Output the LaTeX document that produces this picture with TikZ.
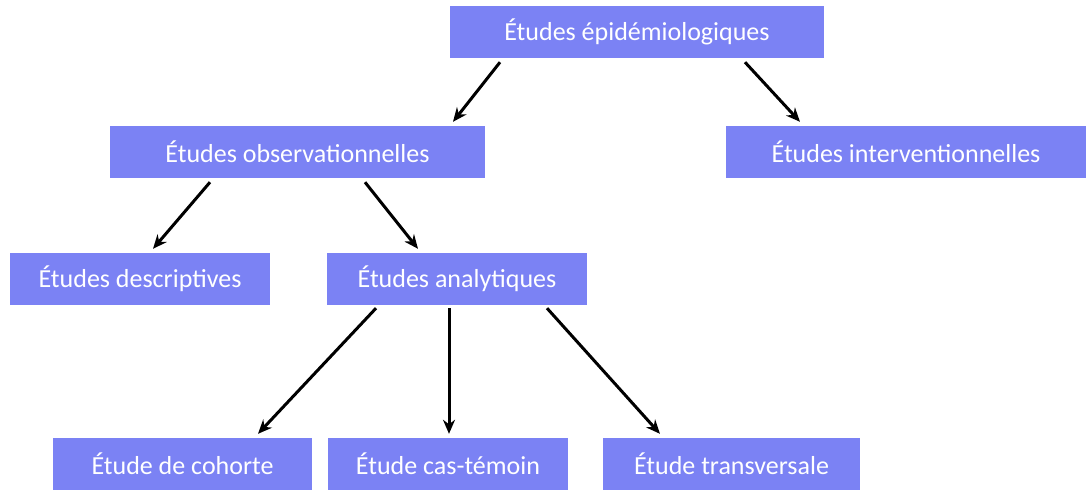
\documentclass[tikz,border=0pt]{standalone}
\usepackage{fontspec}
\setmainfont{Carlito}
\usetikzlibrary{arrows.meta, positioning}
\definecolor{boxblue}{HTML}{7B82F4}

\begin{document}
\begin{tikzpicture}[x=1pt, y=-1pt,
    study/.style={draw=none, fill=boxblue, text=white, minimum height=52pt, font=\fontsize{26}{30}\selectfont, inner sep=0pt},
    arr/.style={-{Stealth[length=14pt,width=12pt]}, line width=3pt}]
    \useasboundingbox (0,0) rectangle (1089,490);

    % Top level
    \node[study, minimum width=374pt] (epi) at (637,32) {Études épidémiologiques};

    % Second level
    \node[study, minimum width=375pt] (obs) at (297.5,152) {Études observationnelles};
    \node[study, minimum width=360pt] (interv) at (906,152) {Études interventionnelles};
    \draw[arr] ([xshift=-137pt,yshift=-4pt]epi.south) -- ([xshift=155.5pt,yshift=4pt]obs.north);
    \draw[arr] ([xshift=108pt,yshift=-4pt]epi.south) -- ([xshift=-106pt,yshift=4pt]interv.north);

    % Third level
    \node[study, minimum width=260pt] (desc) at (140,279) {Études descriptives};
    \node[study, minimum width=260pt] (anal) at (457,279) {Études analytiques};
    \draw[arr] ([xshift=-87.5pt,yshift=-4pt]obs.south) -- ([xshift=13pt,yshift=4pt]desc.north);
    \draw[arr] ([xshift=67.5pt,yshift=-4pt]obs.south) -- ([xshift=-39pt,yshift=4pt]anal.north);

    % Analytical designs
    \node[study, minimum width=259pt] (coh) at (182.5,464) {Étude de cohorte};
    \node[study, minimum width=240pt] (cas) at (448,464) {Étude cas-témoin};
    \node[study, minimum width=257pt] (trans) at (731.5,464) {Étude transversale};
    \draw[arr] ([xshift=-81pt,yshift=-3pt]anal.south) -- ([xshift=75.5pt,yshift=4pt]coh.north);
    \draw[arr] ([xshift=-8pt,yshift=-3pt]anal.south) -- ([xshift=1pt,yshift=4pt]cas.north);
    \draw[arr] ([xshift=90pt,yshift=-3pt]anal.south) -- ([xshift=-71.5pt,yshift=4pt]trans.north);
\end{tikzpicture}
\end{document}
